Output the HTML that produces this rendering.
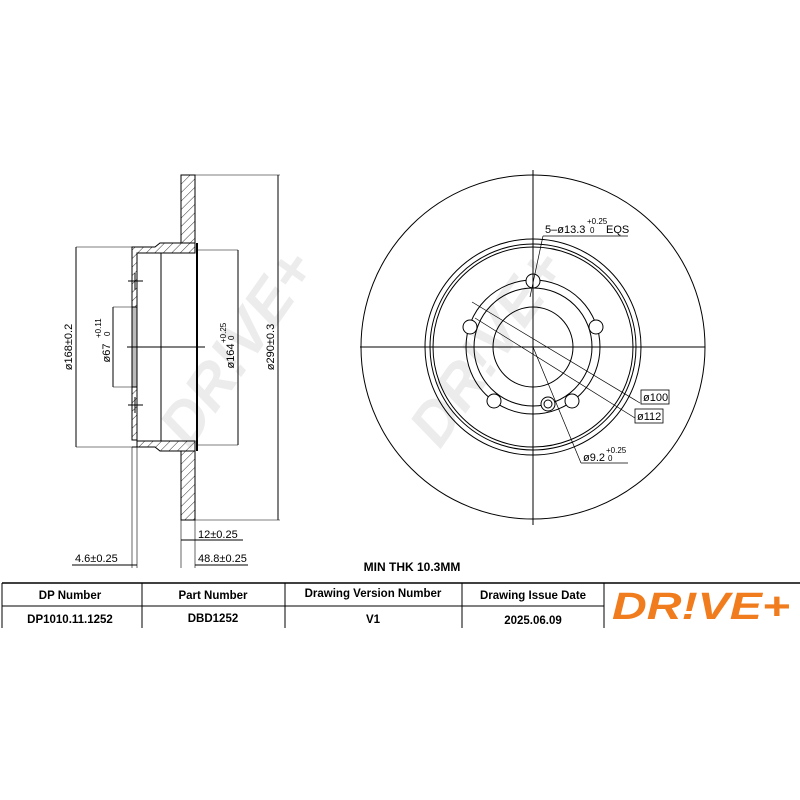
<!DOCTYPE html>
<html><head><style>
body{margin:0;background:#fff;}
svg{display:block;font-family:"Liberation Sans",sans-serif;}
</style></head><body>
<svg width="800" height="800" viewBox="0 0 800 800" xmlns="http://www.w3.org/2000/svg">
<defs>
<pattern id="h" width="6" height="6" patternUnits="userSpaceOnUse" patternTransform="rotate(45)">
<line x1="0" y1="0" x2="0" y2="6" stroke="#000" stroke-width="0.8"/>
</pattern>
</defs>
<g fill="#ececec" font-weight="bold" font-style="italic" font-size="60">
<text transform="translate(190,450) rotate(-55)">DR!VE+</text>
<text transform="translate(440,450) rotate(-55)">DR!VE+</text>
</g>
<g stroke="#000" fill="none" stroke-width="1">
<path d="M181,175 H195 V243 H181 Z" fill="url(#h)"/>
<path d="M181,451 H195 V520 H181 Z" fill="url(#h)"/>
<path d="M132,247 H155 L160,243 H181 V243 H195 V253 H137 V440 H132 Z" fill="url(#h)"/>
<path d="M132,447 H155 L160,451 H195 V441 H137 V447 Z" fill="url(#h)"/>
<line x1="161" y1="253" x2="161" y2="441"/>
<line x1="197" y1="243" x2="197" y2="451" stroke-width="2"/>
<rect x="132" y="307" width="5" height="80" fill="#bbb"/>
<line x1="128" y1="281" x2="143" y2="281"/><line x1="128" y1="405" x2="143" y2="405"/>
<line x1="135" y1="273" x2="135" y2="290"/><line x1="135" y1="397" x2="135" y2="413"/>
<line x1="127" y1="347" x2="205" y2="347"/>
<line x1="76" y1="247" x2="132" y2="247" stroke-width="0.6"/>
<line x1="76" y1="447" x2="132" y2="447" stroke-width="0.6"/>
<line x1="76" y1="247" x2="76" y2="447"/>
<line x1="113" y1="307" x2="132" y2="307" stroke-width="0.6"/>
<line x1="113" y1="387" x2="132" y2="387" stroke-width="0.6"/>
<line x1="113" y1="307" x2="113" y2="387"/>
<line x1="197" y1="250" x2="238" y2="250" stroke-width="0.6"/>
<line x1="197" y1="445" x2="238" y2="445" stroke-width="0.6"/>
<line x1="238" y1="250" x2="238" y2="445"/>
<line x1="195" y1="175" x2="280" y2="175" stroke-width="0.6"/>
<line x1="195" y1="520" x2="280" y2="520" stroke-width="0.6"/>
<line x1="278" y1="175" x2="278" y2="520"/>
<line x1="181" y1="520" x2="181" y2="568" stroke-width="0.6"/>
<line x1="195" y1="520" x2="195" y2="568" stroke-width="0.6"/>
<line x1="132" y1="447" x2="132" y2="568" stroke-width="0.6"/>
<line x1="137" y1="447" x2="137" y2="568" stroke-width="0.6"/>
<line x1="181" y1="540" x2="243" y2="540"/>
<line x1="72" y1="565" x2="137" y2="565"/>
<line x1="195" y1="565" x2="248" y2="565"/>
<circle cx="533" cy="347" r="172"/>
<circle cx="533" cy="347" r="108"/>
<circle cx="533" cy="347" r="103"/>
<circle cx="533" cy="347" r="100"/>
<circle cx="533" cy="347" r="67"/>
<circle cx="533" cy="347" r="59"/>
<circle cx="533" cy="347" r="40"/>
<circle cx="533" cy="281" r="7" fill="#fff"/>
<circle cx="470" cy="327" r="7" fill="#fff"/>
<circle cx="596" cy="327" r="7" fill="#fff"/>
<circle cx="494" cy="401" r="7" fill="#fff"/>
<circle cx="572" cy="401" r="7" fill="#fff"/>
<circle cx="548" cy="404" r="7" fill="#fff"/>
<circle cx="548" cy="404" r="4"/>
<line x1="533" y1="170" x2="533" y2="525"/>
<line x1="360" y1="347" x2="705" y2="347"/>
<line x1="543" y1="236" x2="530" y2="297" stroke-width="0.7"/>
<line x1="543" y1="236" x2="628" y2="236" stroke-width="0.7"/>
<line x1="472" y1="302" x2="640" y2="403" stroke-width="0.7"/>
<line x1="475" y1="318" x2="635" y2="418" stroke-width="0.7"/>
<line x1="533" y1="347" x2="581" y2="463" stroke-width="0.7"/>
<line x1="581" y1="463" x2="628" y2="463" stroke-width="0.7"/>
<rect x="641" y="390" width="28" height="14" stroke-width="0.8"/>
<rect x="635" y="409" width="28" height="14" stroke-width="0.8"/>
<line x1="2" y1="583" x2="800" y2="583" stroke-width="1.5"/>
<line x1="2" y1="606" x2="604" y2="606"/>
<line x1="2" y1="583" x2="2" y2="628"/>
<line x1="142" y1="583" x2="142" y2="628"/>
<line x1="285" y1="583" x2="285" y2="628"/>
<line x1="462" y1="583" x2="462" y2="628"/>
<line x1="604" y1="583" x2="604" y2="628"/>
</g>
<g font-size="11" fill="#000">
<text transform="translate(72,347) rotate(-90)" text-anchor="middle">ø168±0.2</text>
<text transform="translate(110,353) rotate(-90)" text-anchor="middle">ø67</text>
<text transform="translate(101,338) rotate(-90)" font-size="8">+0.11</text>
<text transform="translate(110,336) rotate(-90)" font-size="8">0</text>
<text transform="translate(234,356) rotate(-90)" text-anchor="middle">ø164</text>
<text transform="translate(226,343) rotate(-90)" font-size="8">+0.25</text>
<text transform="translate(234,340) rotate(-90)" font-size="8">0</text>
<text transform="translate(274,347) rotate(-90)" text-anchor="middle">ø290±0.3</text>
<text x="198" y="538">12±0.25</text>
<text x="75" y="562">4.6±0.25</text>
<text x="198" y="562">48.8±0.25</text>
<text x="545" y="233">5–ø13.3</text>
<text x="587" y="224" font-size="8">+0.25</text>
<text x="590" y="233" font-size="8">0</text>
<text x="606" y="233">EQS</text>
<text x="643" y="401">ø100</text>
<text x="637" y="420">ø112</text>
<text x="583" y="461">ø9.2</text>
<text x="606" y="453" font-size="8">+0.25</text>
<text x="608" y="461" font-size="8">0</text>
</g>
<text x="412" y="571" font-size="12" font-weight="bold" text-anchor="middle">MIN THK 10.3MM</text>
<g font-size="11.5" font-weight="bold" text-anchor="middle">
<text x="70" y="599">DP Number</text>
<text x="213" y="599">Part Number</text>
<text x="373" y="597">Drawing Version Number</text>
<text x="533" y="599">Drawing Issue Date</text>
<text x="70" y="623">DP1010.11.1252</text>
<text x="213" y="622">DBD1252</text>
<text x="373" y="623">V1</text>
<text x="533" y="624">2025.06.09</text>
</g>
<text x="612" y="619" font-size="38" font-weight="bold" font-style="italic" fill="#f07c1e" textLength="178" lengthAdjust="spacingAndGlyphs">DR!VE+</text>
</svg>
</body></html>
